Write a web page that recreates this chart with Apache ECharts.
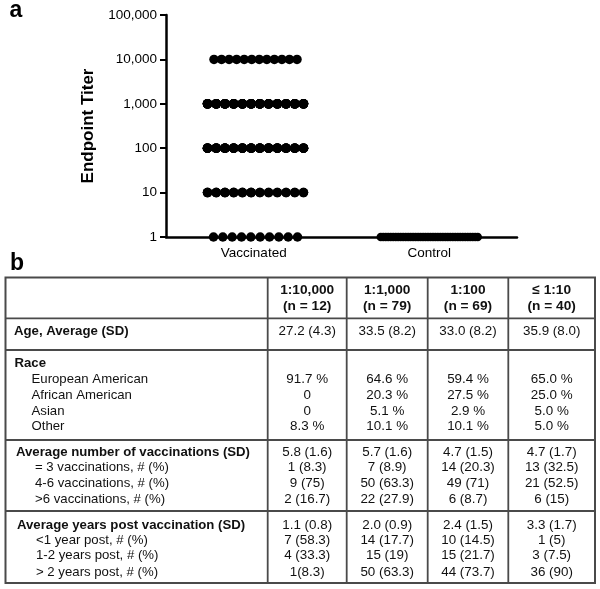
<!DOCTYPE html>
<html>
<head>
<meta charset="utf-8">
<script src="https://cdn.jsdelivr.net/npm/echarts@6/dist/echarts.min.js"></script>
<style>
html,body{margin:0;padding:0;background:#fff;}
#chart{width:600px;height:589px;}
</style>
</head>
<body>
<div id="chart"></div>
<script>
// ---------- Panel a data ----------
const groups = ['Vaccinated', 'Control'];
const titerLevels = [10000, 1000, 100, 10, 1];
const vaccinatedCounts = [12, 79, 69, 30, 10];
const controlTiterLevels = [1];
const controlCounts = [40];
const yTickValues = [1, 10, 100, 1000, 10000, 100000];

// ---------- Panel b data ----------
const colHeaders = ['1:10,000', '1:1,000', '1:100', '\u2264 1:10'];
const colN = ['(n = 12)', '(n = 79)', '(n = 69)', '(n = 40)'];
const rowLabels = [
  'Age, Average (SD)', 'Race', 'European American', 'African American', 'Asian', 'Other',
  'Average number of vaccinations (SD)', '= 3 vaccinations, # (%)', '4-6 vaccinations, # (%)', '>6 vaccinations, # (%)',
  'Average years post vaccination (SD)', '<1 year post, # (%)', '1-2 years post, # (%)', '> 2 years post, # (%)'
];
const rowBold = [true, true, false, false, false, false, true, false, false, false, true, false, false, false];
const col1 = ['27.2 (4.3)', '', '91.7 %', '0', '0', '8.3 %', '5.8 (1.6)', '1 (8.3)', '9 (75)', '2 (16.7)', '1.1 (0.8)', '7 (58.3)', '4 (33.3)', '1(8.3)'];
const col2 = ['33.5 (8.2)', '', '64.6 %', '20.3 %', '5.1 %', '10.1 %', '5.7 (1.6)', '7 (8.9)', '50 (63.3)', '22 (27.9)', '2.0 (0.9)', '14 (17.7)', '15 (19)', '50 (63.3)'];
const col3 = ['33.0 (8.2)', '', '59.4 %', '27.5 %', '2.9 %', '10.1 %', '4.7 (1.5)', '14 (20.3)', '49 (71)', '6 (8.7)', '2.4 (1.5)', '10 (14.5)', '15 (21.7)', '44 (73.7)'];
const col4 = ['35.9 (8.0)', '', '65.0 %', '25.0 %', '5.0 %', '5.0 %', '4.7 (1.7)', '13 (32.5)', '21 (52.5)', '6 (15)', '3.3 (1.7)', '1 (5)', '3 (7.5)', '36 (90)'];

// ---------- layout ----------
const FONT = '"Liberation Sans", Arial, Helvetica, sans-serif';
const gridLeft = 166, gridTop = 15, gridW = 351, gridH = 222;
const unitPx = gridW / 2;            // x value axis 0..2
const vaccRowSpreadPx = [83, 96, 96, 96, 84];
const vaccRowSlots = [12, 12, 12, 12, 10];
const controlSpreadPx = 97;

function rowPoints(center, level, count, spreadPx, slots) {
  const pts = [];
  const s = Math.min(slots, count);
  for (let i = 0; i < count; i++) {
    const k = i % s;
    const off = s > 1 ? (k / (s - 1) - 0.5) * spreadPx : 0;
    pts.push([center + off / unitPx, level]);
  }
  return pts;
}
let vaccPts = [];
titerLevels.forEach((lv, i) => {
  vaccPts = vaccPts.concat(rowPoints(0.51, lv, vaccinatedCounts[i], vaccRowSpreadPx[i], vaccRowSlots[i]));
});
let ctrlPts = [];
controlTiterLevels.forEach((lv, i) => {
  ctrlPts = ctrlPts.concat(rowPoints(1.5, lv, controlCounts[i], controlSpreadPx, controlCounts[i]));
});

// table geometry
const tLeft = 5.5, tRight = 595, tTop = 277.5, tBottom = 583;
const vLines = [267.7, 346.7, 427.7, 508.3];
const hLines = [318.3, 350, 440, 511];
const colCenters = [307.2, 387.2, 468, 551.7];
const rowY = [331.7, 363.3, 379.3, 395, 411.7, 426.7, 452.7, 467.3, 483.3, 499.3, 525, 540, 555.7, 572.3];
const rowX = [14, 14.5, 31.5, 31.5, 31.5, 31.5, 16, 35, 35, 35, 17, 36, 36, 36];
const headY1 = 290, headY2 = 306.5;
const LFS = 13.2, VFS = 13.4, HFS = 13.7;

const lineColor = '#4a4a4a';
const graphics = [];
graphics.push({ type: 'text', x: 9.5, y: 10.5, style: { text: 'a', font: 'bold 23px ' + FONT, fill: '#000', align: 'left', verticalAlign: 'middle' } });
graphics.push({ type: 'text', x: 10, y: 264, style: { text: 'b', font: 'bold 23px ' + FONT, fill: '#000', align: 'left', verticalAlign: 'middle' } });
graphics.push({ type: 'rect', shape: { x: tLeft, y: tTop, width: tRight - tLeft, height: tBottom - tTop }, style: { fill: 'none', stroke: lineColor, lineWidth: 2 } });
vLines.forEach(x => graphics.push({ type: 'line', shape: { x1: x, y1: tTop, x2: x, y2: tBottom }, style: { stroke: lineColor, lineWidth: 1.8 } }));
hLines.forEach(y => graphics.push({ type: 'line', shape: { x1: tLeft, y1: y, x2: tRight, y2: y }, style: { stroke: lineColor, lineWidth: 1.8 } }));
colHeaders.forEach((h, j) => {
  graphics.push({ type: 'text', x: colCenters[j], y: headY1, style: { text: h, font: 'bold ' + HFS + 'px ' + FONT, fill: '#111', align: 'center', verticalAlign: 'middle' } });
  graphics.push({ type: 'text', x: colCenters[j], y: headY2, style: { text: colN[j], font: 'bold ' + HFS + 'px ' + FONT, fill: '#111', align: 'center', verticalAlign: 'middle' } });
});
rowLabels.forEach((lab, i) => {
  graphics.push({ type: 'text', x: rowX[i], y: rowY[i], style: { text: lab, font: (rowBold[i] ? 'bold ' : '') + LFS + 'px ' + FONT, fill: '#111', align: 'left', verticalAlign: 'middle' } });
});
[col1, col2, col3, col4].forEach((col, j) => {
  col.forEach((v, i) => {
    if (!v) return;
    graphics.push({ type: 'text', x: colCenters[j], y: rowY[i], style: { text: v, font: VFS + 'px ' + FONT, fill: '#111', align: 'center', verticalAlign: 'middle' } });
  });
});

const chart = echarts.init(document.getElementById('chart'), null, { renderer: 'canvas' });
chart.setOption({
  animation: false,
  backgroundColor: '#fff',
  grid: { left: gridLeft, top: gridTop, width: gridW, height: gridH, containLabel: false },
  xAxis: {
    type: 'value', min: 0, max: 2, interval: 0.5,
    axisLine: { show: true, lineStyle: { color: '#000', width: 2.5 } },
    axisTick: { show: false },
    splitLine: { show: false },
    axisLabel: {
      margin: 9, fontSize: 13.5, fontFamily: FONT, color: '#000',
      formatter: v => (Math.abs(v - 0.5) < 1e-6 ? groups[0] : (Math.abs(v - 1.5) < 1e-6 ? groups[1] : ''))
    }
  },
  yAxis: {
    type: 'log', logBase: 10, min: yTickValues[0], max: yTickValues[yTickValues.length - 1],
    name: 'Endpoint Titer', nameLocation: 'middle', nameGap: 66,
    nameTextStyle: { fontSize: 17, fontWeight: 'bold', fontFamily: FONT, color: '#000' },
    axisLine: { show: true, lineStyle: { color: '#000', width: 2.5 } },
    axisTick: { show: true, length: 6, lineStyle: { color: '#000', width: 2 } },
    splitLine: { show: false },
    axisLabel: { margin: 9, fontSize: 13.5, fontFamily: FONT, color: '#000', formatter: v => Number(v).toLocaleString('en-US') }
  },
  series: [
    { type: 'scatter', name: groups[0], data: vaccPts, symbol: 'circle', symbolSize: 9.5, itemStyle: { color: '#000', opacity: 1 }, clip: false, z: 5 },
    { type: 'scatter', name: groups[1], data: ctrlPts, symbol: 'circle', symbolSize: 8.5, itemStyle: { color: '#000', opacity: 1 }, clip: false, z: 5 }
  ],
  graphic: graphics
});
</script>
</body>
</html>
